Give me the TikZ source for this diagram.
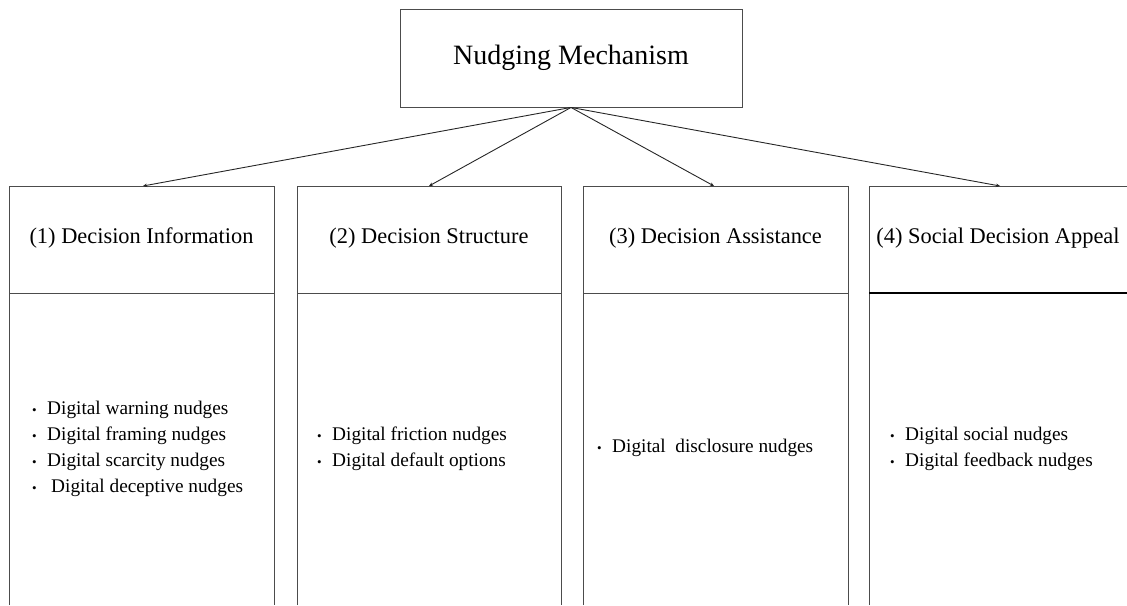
\documentclass[tikz,border=0pt]{standalone}
\usepackage{fontspec}
\setmainfont{Liberation Serif}
\usetikzlibrary{arrows.meta}
\newcommand{\bl}{\makebox[15pt][l]{\raisebox{0.6pt}{\fontsize{13}{13}\selectfont •}}}
\begin{document}
\begin{tikzpicture}[x=1pt,y=-1pt,
  boxline/.style={draw=black!70, line width=0.9pt},
  conn/.style={draw=black!85, line width=0.9pt, -{Stealth[length=4pt,width=3.5pt]}},
  headtext/.style={font=\fontsize{22.4}{26}\selectfont, inner sep=0pt},
  listtext/.style={font=\fontsize{19.3}{26}\selectfont, inner sep=0pt, align=left, anchor=west},
]
\useasboundingbox (0,0) rectangle (1127,605);
% top node
\node[draw=black!70, line width=0.9pt, minimum width=342pt, minimum height=98pt,
      inner sep=0pt, font=\fontsize{28}{30}\selectfont] (top) at (571,58) {Nudging Mechanism};
% columns 1-3
\foreach \i/\l/\r/\t in {1/9/274/143, 2/297/561/429, 3/583/848/714} {
  \draw[boxline] (\l,605) -- (\l,186) -- (\r,186) -- (\r,605);
  \draw[boxline] (\l,293) -- (\r,293);
  \coordinate (tip\i) at (\t,186);
}
% column 4
\draw[boxline] (869,605) -- (869,186) -- (1127,186);
\draw[black, line width=1.8pt] (869,293) -- (1127,293);
\coordinate (tip4) at (1000,186);
% headers
\node[headtext] (h1) at (141.5,238) {(1) Decision Information};
\node[headtext] (h2) at (429,238) {(2) Decision Structure};
\node[headtext] (h3) at (715.5,238) {(3) Decision Assistance};
\node[headtext] (h4) at (998,238) {(4) Social Decision Appeal};
% connectors
\foreach \i in {1,2,3,4} \draw[conn] (top.south) -- (tip\i);
% lists
\node[listtext] (l1) at (32,449) {\bl Digital warning nudges\\ \bl Digital framing nudges\\ \bl Digital scarcity nudges\\ \bl\hspace{4pt}Digital deceptive nudges};
\node[listtext] (l2) at (317,449) {\bl Digital friction nudges\\ \bl Digital default options};
\node[listtext] (l3) at (597,448) {\bl Digital~ disclosure nudges};
\node[listtext] (l4) at (890,449) {\bl Digital social nudges\\ \bl Digital feedback nudges};
\end{tikzpicture}
\end{document}
